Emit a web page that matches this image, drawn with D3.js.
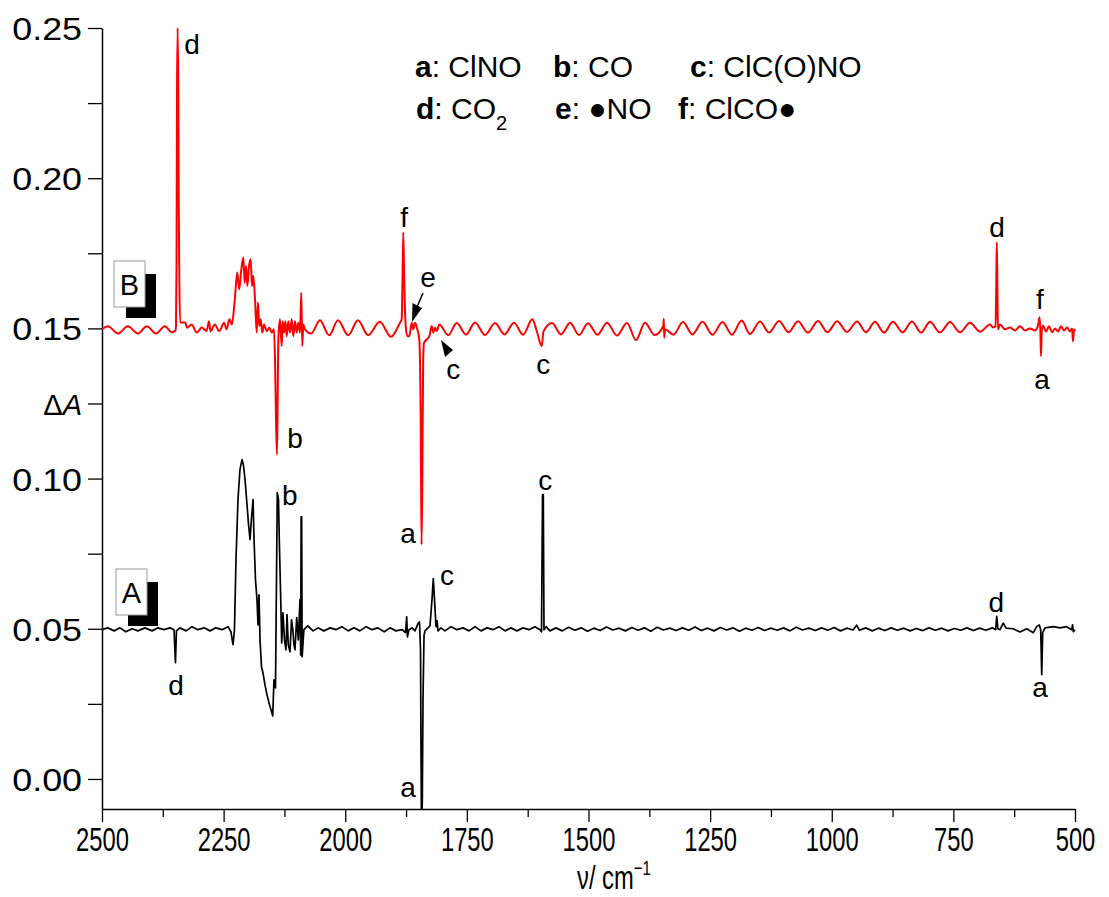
<!DOCTYPE html>
<html><head><meta charset="utf-8">
<script src="https://cdn.jsdelivr.net/npm/d3@7"></script>
<style>
body{margin:0;background:#fff}
svg{display:block}
text{font-family:"Liberation Sans",Arial,sans-serif;fill:#000}
</style>
</head><body>
<svg id="chart" width="1109" height="897"></svg>
<script>
// ---------- data (wavenumber / cm-1, ΔA) ----------
const traceB = [
[2500,0.1497],[2488,0.1507],[2467,0.1483],[2447,0.1507],[2426,0.1483],[2408,0.1507],[2389,0.1483],[2371,0.1507],[2356,0.1487],[2349,0.1493],
[2347.9,0.1510],[2346.8,0.172],[2345.8,0.229],[2344.5,0.25],[2343.2,0.229],[2342.2,0.19],[2341.2,0.17],[2339.7,0.152],
[2329,0.152],[2325,0.1502],[2316,0.1513],[2305,0.1486],[2295,0.1503],[2285,0.1491],[2280,0.1524],[2277,0.149],[2268,0.1513],[2259,0.1491],[2249,0.1519],[2244,0.1497],[2238,0.153],[2233,0.1513],
[2227,0.1597],[2222,0.1686],[2218,0.163],[2214,0.1691],[2209.5,0.1736],[2206.7,0.1652],[2204,0.1708],[2201.3,0.1641],[2197.8,0.1708],[2194.3,0.173],[2191.7,0.1641],[2189,0.1674],[2185.5,0.1597],[2182,0.1486],[2179.4,0.1586],[2176.7,0.1508],[2173.9,0.153],[2170.5,0.1486],[2167,0.1513],[2161.5,0.1491],[2156,0.1502],[2151,0.1486],[2146.5,0.1497],
[2144.4,0.1397],[2142.3,0.1197],[2140.3,0.108],[2138.9,0.1263],[2137.6,0.1463],
[2134.1,0.153],[2130.6,0.1441],[2128.6,0.1524],[2125.9,0.1486],[2123.2,0.1524],[2120.4,0.1474],[2117.1,0.1524],[2113.6,0.1486],[2110.1,0.153],[2106.8,0.1474],[2103.3,0.1524],[2099.8,0.1486],[2096.5,0.1519],[2093,0.1486],[2090.4,0.1619],[2088.3,0.1441],[2086.2,0.1513],[2082.7,0.1497],
[2070,0.1483],[2052,0.1527],[2033,0.1477],[2015,0.1527],[1994,0.1477],[1974,0.1527],[1953,0.1477],[1929,0.1522],[1906,0.1472],
[1887.5,0.1519],[1884,0.153],[1882.3,0.1663],[1880.7,0.182],[1878.8,0.1663],[1877.8,0.1597],[1875.8,0.1508],[1872.4,0.1474],[1868.4,0.1474],[1863.4,0.1519],[1860.2,0.1497],[1856.6,0.1519],[1851.9,0.1497],[1847.8,0.1463],[1844.9,0.1197],[1843.2,0.078],[1841.6,0.0997],[1839.8,0.1397],[1838.1,0.1452],[1832.6,0.1463],[1827.2,0.1474],[1822.3,0.1508],[1819,0.1486],[1815.5,0.1502],[1812,0.1491],[1806.7,0.1513],[1788.2,0.1477],
[1770.9,0.1518],[1751.8,0.1479],[1733.3,0.1520],[1712.7,0.1478],[1692.2,0.1518],[1672.7,0.1480],[1653.1,0.1519],[1634.6,0.1479],[1615.5,0.1530],[1605.8,0.1488],[1596.2,0.1441],[1592.5,0.1490],[1575,0.1518],[1556.5,0.1480],[1538,0.1519],[1519.5,0.1478],[1501,0.1517],[1481.5,0.1479],[1462,0.1519],[1441.4,0.1476],[1420.9,0.1518],[1402.4,0.1461],[1383.9,0.1519],[1364.4,0.1478],[1346.2,0.1508],[1345.2,0.1532],[1344.4,0.1469],[1342.5,0.1497],[1325.3,0.1479],[1305.8,0.1521],[1286.3,0.1480],[1265.7,0.1522],[1245.1,0.1479],[1224.6,0.1521],[1205.1,0.1479],[1185.2,0.1526],[1168.1,0.1481],[1147.5,0.1523],[1129,0.1486],[1108.4,0.1525],[1088.9,0.1487],[1069.4,0.1524],[1048.8,0.1486],[1028.3,0.1525],[1008.8,0.1487],[989.2,0.1524],[968.7,0.1488],[948.1,0.1523],[929.6,0.1487],[911.1,0.1522],[892.6,0.1486],[874.1,0.1522],[854.6,0.1487],[835.1,0.1523],[816.5,0.1486],[798,0.1522],[777.5,0.1486],[756.9,0.1521],[736.4,0.1487],[715.8,0.1519],[695.3,0.1489],[674.7,0.1513],
[668.5,0.1503],[663.4,0.1507],[661.7,0.1663],[660.7,0.1787],[659.5,0.163],[658.3,0.1497],[654.2,0.1513],[644,0.1497],[633.6,0.1503],[623.3,0.1493],[613,0.1507],[602.8,0.1493],[592.5,0.15],[582.2,0.1493],[576,0.151],[572.9,0.1537],[571.3,0.1497],[569.9,0.1407],[568.4,0.149],[565.7,0.151],[559.6,0.149],[553.4,0.1507],[547.2,0.1487],[541.1,0.15],[534.9,0.149],[528.7,0.1507],[522.6,0.1493],[516.4,0.1503],[510.2,0.149],[506.1,0.15],[504.1,0.1457],[502,0.1497],[500,0.149]
];

const traceA = [
[2500,0.0497],[2488,0.0503],[2475,0.0493],[2463,0.0503],[2451,0.049],[2438,0.05],[2426,0.0493],[2412,0.0503],[2397,0.0493],[2385,0.0503],[2373,0.0497],[2360,0.0503],[2352,0.0497],[2349,0.0387],[2347,0.0493],[2340,0.0503],[2327,0.0493],[2315,0.0507],[2303,0.0497],[2290,0.0503],[2278,0.0493],[2266,0.0503],[2253,0.0497],[2241,0.0507],[2235,0.049],[2230.7,0.0447],[2227.7,0.0497],
[2224.6,0.073],[2220.5,0.093],[2216.4,0.103],[2212.2,0.1063],[2209.5,0.1047],[2206,0.0997],[2201.9,0.0913],[2198.8,0.0847],[2195.7,0.0797],[2193,0.0863],[2189.5,0.093],[2187.5,0.0797],[2184.5,0.0663],[2181.4,0.0597],[2179.3,0.0513],[2177.3,0.0613],[2175.2,0.0463],[2172.1,0.0373],[2169.1,0.0353],[2165,0.0313],[2160.8,0.028],[2156.7,0.0253],[2152.6,0.023],[2149.1,0.021],[2146.5,0.033],[2143.4,0.0303],[2139.7,0.0953],[2137.2,0.093],[2135.6,0.0797],[2132.7,0.0603],[2130.6,0.0453],[2128,0.0553],[2124.9,0.0463],[2121.8,0.043],[2119.7,0.0547],[2117.1,0.0447],[2113.6,0.0423],[2110.5,0.053],[2108.1,0.0503],[2105.4,0.0447],[2103.3,0.043],[2099.8,0.0537],[2096.5,0.0463],[2093,0.0597],[2091.6,0.0413],[2090.7,0.0873],[2089.6,0.0873],[2088.6,0.0407],[2085,0.0497],
[2077,0.051],[2066,0.0493],[2056,0.0503],[2044,0.0493],[2031,0.0503],[2019,0.0497],[2007,0.0507],[1994,0.0493],[1982,0.0503],[1970,0.0493],[1957,0.0507],[1945,0.0497],[1933,0.0503],[1920,0.049],[1908,0.0503],[1896,0.0493],[1883,0.0497],[1876.2,0.0487],[1873.7,0.054],[1872.1,0.0473],[1869,0.0497],[1862.8,0.0503],[1856.6,0.0493],[1850.5,0.0517],[1847.4,0.0523],[1845.3,0.043],[1843.7,-0.007],[1842.9,-0.017],[1841.6,-0.007],[1840.2,0.0263],[1838.1,0.0477],[1836.1,0.0493],[1829.9,0.0503],[1825.8,0.051],[1821.7,0.0597],[1819,0.0667],[1816.5,0.0597],[1813.5,0.0507],[1811.4,0.0527],[1809.3,0.0493],[1803.2,0.0503],[1795,0.0493],
[1782.6,0.0507],[1770.3,0.0497],[1758,0.0503],[1745.6,0.0493],[1733.3,0.0507],[1721,0.0493],[1708.6,0.0503],[1696.3,0.0497],[1684,0.0507],[1671.6,0.0493],[1659.3,0.0503],[1647,0.0493],[1634.6,0.0503],[1622.3,0.0497],[1610,0.0507],[1599.7,0.0497],[1596.6,0.049],[1594.5,0.0947],[1592.9,0.0947],[1591.5,0.0497],[1587.4,0.0507],[1579.2,0.0493],[1567,0.0503],
[1554,0.0493],[1541,0.0505],[1528,0.0495],[1515,0.0503],[1502,0.0492],[1489,0.0502],[1476,0.0494],[1463,0.0506],[1450,0.0496],[1437,0.0502],[1424,0.0493],[1411,0.0504],[1398,0.0495],[1385,0.0503],[1372,0.0492],[1359,0.0505],[1346,0.0496],[1333,0.0502],[1320,0.0494],[1307,0.0503],[1294,0.0495],[1281,0.0506],[1268,0.0494],[1255,0.0502],[1242,0.0493],[1229,0.0504],[1216,0.0496],[1203,0.0503],[1190,0.0492],[1177,0.0502],[1164,0.0495],[1151,0.0504],[1138,0.0494],[1125,0.0502],[1112,0.0495],[1099,0.0503],[1086,0.0493],[1073,0.0505],[1060,0.0496],[1047,0.0502],[1034,0.0494],[1021,0.0503],[1008,0.0495],[995,0.0504],[982,0.0493],[969,0.0502],[956,0.0496],[949,0.0512],[943,0.0495],[930,0.0503],[917,0.0493],[904,0.0502],[891,0.0494],[878,0.0503],[865,0.0495],[852,0.0502],[839,0.0493],[826,0.0501],[813,0.0494],[800,0.0503],[787,0.0495],[774,0.0502],[761,0.0493],[748,0.0501],[735,0.0495],[722,0.0503],[709,0.0494],[696,0.0502],[683,0.0495],[670,0.0503],
[663,0.0497],[660.9,0.0541],[658.5,0.0500],[654.2,0.0497],[647.4,0.0519],[641.8,0.0502],[627.4,0.0500],[613,0.0489],[599.3,0.0500],[585.7,0.0487],[578.7,0.0507],[573.4,0.0513],[570.5,0.0497],[568.4,0.0347],[566.4,0.0487],[561.7,0.0503],[544.6,0.0507],[530.8,0.0503],[517,0.0507],[506.8,0.0497],[505,0.0513],[503.5,0.049],[500,0.0497]
];

const xTickValues = [2500,2250,2000,1750,1500,1250,1000,750,500];
const xMinorValues = [2375,2125,1875,1625,1375,1125,875,625];
const yTickValues = [0,0.05,0.10,0.15,0.20,0.25];
const yMinorValues = [0.025,0.075,0.125,0.175,0.225];

// peak labels: text, wavenumber, ΔA of the label baseline
const labelText = ["d","f","e","c","c","b","a","d","f","a","c","b","c","d","a","d","a"];
const labelWn   = [2315,1879,1830,1778,1593,2103,1871,660,572,568,1589,2114,1791,2348,1871,662,572];
const labelDA   = [0.2413,0.1837,0.1637,0.1333,0.1347,0.1103,0.0787,0.1803,0.1563,0.1297,0.0963,0.0913,0.0647,0.028,-0.006,0.0557,0.0273];

const legendRow1 = [["a",": ClNO"],["b",": CO"],["c",": ClC(O)NO"]];
const legendRow2 = [["d",": CO"],["e",": \u25CFNO"],["f",": ClCO\u25CF"]];

// ---------- layout ----------
const svg = d3.select("#chart");
const L = 102, R = 1075, T = 28, B = 809;
const x = d3.scaleLinear().domain([2500,500]).range([L,R]);
const y = d3.scaleLinear().domain([-0.01,0.25]).range([B,T]);

svg.append("defs").append("clipPath").attr("id","plotclip")
  .append("rect").attr("x",L).attr("y",T-2).attr("width",R-L+2).attr("height",B-T+2);

// axes
const xAxis = svg.append("g").attr("transform",`translate(0,${B})`)
  .call(d3.axisBottom(x).tickValues(xTickValues).tickSize(13).tickSizeOuter(0).tickFormat(d3.format("d")));
svg.append("g").attr("transform",`translate(0,${B})`)
  .call(d3.axisBottom(x).tickValues(xMinorValues).tickSize(8).tickSizeOuter(0).tickFormat(""))
  .select(".domain").remove();
xAxis.selectAll(".tick text").attr("font-size",34).attr("y",null).attr("dy",null)
   .attr("transform","translate(0,42) scale(0.7,1)");

const yAxis = svg.append("g").attr("transform",`translate(${L},0)`)
  .call(d3.axisLeft(y).tickValues(yTickValues).tickSize(14).tickSizeOuter(0).tickFormat(d3.format(".2f")));
svg.append("g").attr("transform",`translate(${L},0)`)
  .call(d3.axisLeft(y).tickValues(yMinorValues).tickSize(14).tickSizeOuter(0).tickFormat(""))
  .select(".domain").remove();
yAxis.selectAll(".tick text").attr("font-size",32).attr("x",null).attr("dy","0.36em")
   .attr("transform","translate(-20,0) scale(1.12,1)");
svg.selectAll(".domain").attr("stroke","#000").attr("stroke-width",1.5);
svg.selectAll(".tick line").attr("stroke","#000").attr("stroke-width",1.3);
svg.selectAll("g text").attr("font-family","Liberation Sans, Arial, sans-serif").attr("fill","#000");

// axis titles
const ylab = svg.append("text").attr("x",82).attr("y",415).attr("text-anchor","end").attr("font-size",29);
ylab.append("tspan").text("\u0394");
ylab.append("tspan").attr("font-style","italic").text("A");
const xlab = svg.append("text").attr("transform","translate(614,889) scale(0.72,1)")
  .attr("text-anchor","middle").attr("font-size",33);
xlab.append("tspan").text("\u03BD/ cm");
xlab.append("tspan").attr("font-size",21).attr("dy",-14).text("\u22121");

// traces
const plot = svg.append("g").attr("clip-path","url(#plotclip)");
const lineSmooth = d3.line().x(d=>x(d[0])).y(d=>y(d[1])).curve(d3.curveMonotoneX);
const lineRaw = d3.line().x(d=>x(d[0])).y(d=>y(d[1]));
plot.append("path").datum(traceA).attr("d",lineRaw).attr("fill","none").attr("stroke","#000").attr("stroke-width",1.7).attr("stroke-linejoin","round");
plot.append("path").datum(traceB).attr("d",lineSmooth).attr("fill","none").attr("stroke","#ff0000").attr("stroke-width",2).attr("stroke-linejoin","round");

// peak labels
svg.append("g").selectAll("text").data(labelText).join("text")
  .attr("x",(d,i)=>x(labelWn[i])).attr("y",(d,i)=>y(labelDA[i]))
  .attr("text-anchor","middle").attr("font-size",28).text(d=>d);

// arrows (e and c)
svg.append("line").attr("x1",423).attr("y1",293).attr("x2",417).attr("y2",307).attr("stroke","#000").attr("stroke-width",1.5);
svg.append("path").attr("d","M412,322 L412.5,303 L422,308 Z").attr("fill","#000");
svg.append("path").attr("d","M441,340 L453,350 L445,357 Z").attr("fill","#000");

// legend
function legendRow(items, xs, yb, sub){
  items.forEach((it,i)=>{
    const t = svg.append("text").attr("x",xs[i]).attr("y",yb).attr("font-size",30);
    t.append("tspan").attr("font-weight","bold").text(it[0]);
    t.append("tspan").text(it[1]);
    if(sub && i===0){ t.append("tspan").attr("font-size",20).attr("dy",11).text("2"); }
  });
}
legendRow(legendRow1,[415,553,690],77,false);
legendRow(legendRow2,[416,555,678],119,true);

// panel tags A / B
function tag(txt, bx, by){
  svg.append("rect").attr("x",bx+12).attr("y",by+13).attr("width",30).attr("height",44).attr("fill","#000");
  svg.append("rect").attr("x",bx).attr("y",by).attr("width",31).attr("height",46).attr("fill","#fff").attr("stroke","#999").attr("stroke-width",1);
  svg.append("text").attr("x",bx+15.5).attr("y",by+34).attr("text-anchor","middle").attr("font-size",29).text(txt);
}
tag("B",114,261);
tag("A",116,569);
</script>
</body></html>
